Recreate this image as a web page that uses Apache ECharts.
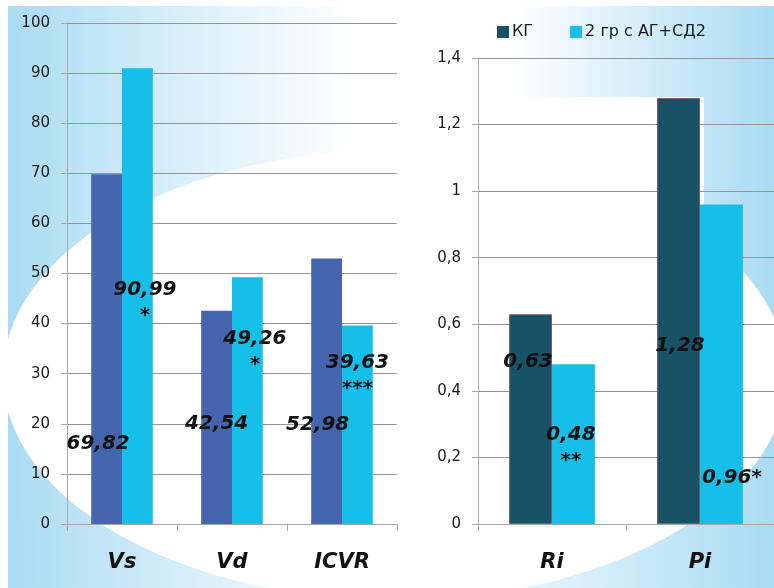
<!DOCTYPE html>
<html>
<head>
<meta charset="utf-8">
<script src="https://cdn.jsdelivr.net/npm/echarts@6/dist/echarts.min.js"></script>
<style>
  html, body { margin: 0; padding: 0; background: #ffffff; }
  #chart { width: 774px; height: 588px; }
</style>
</head>
<body>
<div id="chart"></div>
<script>
// Doppler indices: control group (КГ) vs group 2 (АГ+СД2)
const categoriesLeft = ['Vs', 'Vd', 'ICVR'];
const kgLeft = [69.82, 42.54, 52.98];
const groupLeft = [90.99, 49.26, 39.63];
const sigLeft = ['*', '*', '***'];

const categoriesRight = ['Ri', 'Pi'];
const kgRight = [0.63, 1.28];
const groupRight = [0.48, 0.96];
const sigRight = ['**', '*'];

const leftAxis = { min: 0, max: 100, step: 10 };
const rightAxis = { min: 0, max: 1.4, step: 0.2 };

const seriesNames = ['КГ', '2 гр с АГ+СД2'];

const COLORS = {
  kgLeft: '#4565af',
  group: '#16bfe8',
  kgRight: '#185267',
  grid: '#959595',
  axis: '#a8a8a8',
  text: '#1a1a1a',
  sky: '#a9dbf3'
};

const FONT = 'DejaVu Sans';
const comma = v => String(v).replace('.', ',');

// Hand-placed label anchors: [dx from bar centre, dy from the baseline]
const labelPlace = {
  kgLeft:    [[-8.5, -90], [0, -110], [-9, -109]],
  groupLeft: [[7.5, -244], [7.5, -195], [0, -171]],
  kgRight:   [[-2.5, -172], [1.5, -188]],
  groupRight:[[-2.5, -99], [10.5, -56]]
};
const sigInline = { groupLeft: [false, false, false], groupRight: [false, true] };

const rich = {
  n: { fontFamily: FONT, fontSize: 20, fontWeight: 'bold', fontStyle: 'italic', lineHeight: 20, color: '#111' },
  s: { fontFamily: FONT, fontSize: 20, fontWeight: 'bold', fontStyle: 'italic', lineHeight: 32, color: '#111' }
};

function labelled(values, key, sigs) {
  return values.map((v, i) => {
    const [dx, dy] = labelPlace[key][i];
    let text = '{n|' + comma(v) + '}';
    if (sigs) {
      text = sigInline[key][i] ? '{n|' + comma(v) + sigs[i] + '}' : text + '\n{s|' + sigs[i] + '}';
    }
    return {
      value: v,
      label: {
        show: true,
        position: 'insideBottom',
        distance: 0,
        align: 'center',
        verticalAlign: 'top',
        offset: [dx, dy],
        formatter: () => text,
        rich: rich,
        color: '#111',
        textBorderWidth: 0
      }
    };
  });
}

function valueAxis(gridIndex, cfg, decimalComma) {
  return {
    type: 'value',
    gridIndex: gridIndex,
    min: cfg.min,
    max: cfg.max,
    interval: cfg.step,
    axisLine: { show: true, lineStyle: { color: COLORS.axis, width: 1 } },
    axisTick: { show: true, inside: false, length: 6, lineStyle: { color: COLORS.axis } },
    splitLine: { show: true, lineStyle: { color: COLORS.grid, width: 1 } },
    axisLabel: {
      margin: 17,
      color: COLORS.text,
      fontFamily: FONT,
      fontSize: 15,
      formatter: v => decimalComma ? comma(Math.round(v * 10) / 10) : String(v)
    }
  };
}

function categoryAxis(gridIndex, cats) {
  return {
    type: 'category',
    gridIndex: gridIndex,
    data: cats,
    boundaryGap: true,
    axisLine: { show: true, lineStyle: { color: COLORS.axis, width: 1 } },
    axisTick: { show: true, alignWithLabel: false, length: 7, lineStyle: { color: COLORS.axis } },
    splitLine: { show: false },
    axisLabel: {
      margin: 28,
      color: '#111',
      fontFamily: FONT,
      fontSize: 21,
      fontWeight: 'bold',
      fontStyle: 'italic'
    }
  };
}

const barBase = { type: 'bar', barGap: '0%', animation: false };

const option = {
  animation: false,
  backgroundColor: 'transparent',
  graphic: {
    elements: [
      {
        type: 'rect', z: -20, silent: true,
        shape: { x: 8, y: 6, width: 766, height: 582 },
        style: {
          fill: {
            type: 'linear', x: 0, y: 0, x2: 1, y2: 0,
            colorStops: [
              { offset: 0, color: COLORS.sky },
              { offset: 0.2, color: '#d2edf9' },
              { offset: 0.45, color: '#ffffff' },
              { offset: 0.66, color: '#ffffff' },
              { offset: 1, color: COLORS.sky }
            ]
          }
        }
      },
      {
        type: 'rect', z: -19, silent: true,
        shape: { x: 8, y: 522, width: 766, height: 66 },
        style: {
          fill: {
            type: 'linear', x: 0, y: 0, x2: 1, y2: 0,
            colorStops: [
              { offset: 0, color: COLORS.sky },
              { offset: 0.45, color: '#ffffff' },
              { offset: 0.6, color: '#f4fbfe' },
              { offset: 1, color: COLORS.sky }
            ]
          }
        }
      },
      {
        type: 'ellipse', z: -18, silent: true,
        shape: { cx: 395, cy: 375, rx: 392, ry: 225 },
        style: { fill: '#ffffff' }
      },
      {
        type: 'rect', z: -17, silent: true,
        shape: { x: 478, y: 97, width: 226, height: 427 },
        style: { fill: '#ffffff' }
      }
    ]
  },
  legend: {
    left: 497,
    top: 24,
    padding: 0,
    icon: 'rect',
    itemWidth: 12,
    itemHeight: 12,
    itemGap: 37,
    textStyle: { fontFamily: FONT, fontSize: 16, color: COLORS.text, padding: [0, 0, 0, -2] },
    data: [
      { name: seriesNames[0], itemStyle: { color: COLORS.kgRight } },
      { name: seriesNames[1], itemStyle: { color: COLORS.group } }
    ]
  },
  grid: [
    { left: 67, top: 23, width: 330, bottom: 64, containLabel: false },
    { left: 478, top: 58, width: 296, bottom: 64, containLabel: false }
  ],
  xAxis: [categoryAxis(0, categoriesLeft), categoryAxis(1, categoriesRight)],
  yAxis: [valueAxis(0, leftAxis, false), valueAxis(1, rightAxis, true)],
  series: [
    Object.assign({}, barBase, {
      name: seriesNames[0], xAxisIndex: 0, yAxisIndex: 0,
      barCategoryGap: '44%',
      itemStyle: { color: COLORS.kgLeft },
      data: labelled(kgLeft, 'kgLeft', null)
    }),
    Object.assign({}, barBase, {
      name: seriesNames[1], xAxisIndex: 0, yAxisIndex: 0,
      barCategoryGap: '44%',
      itemStyle: { color: COLORS.group },
      data: labelled(groupLeft, 'groupLeft', sigLeft)
    }),
    Object.assign({}, barBase, {
      name: seriesNames[0], xAxisIndex: 1, yAxisIndex: 1,
      barCategoryGap: '42%',
      itemStyle: { color: COLORS.kgRight, borderColor: '#7e5a66', borderWidth: 1 },
      data: labelled(kgRight, 'kgRight', null)
    }),
    Object.assign({}, barBase, {
      name: seriesNames[1], xAxisIndex: 1, yAxisIndex: 1,
      barCategoryGap: '42%',
      itemStyle: { color: COLORS.group },
      data: labelled(groupRight, 'groupRight', sigRight)
    })
  ]
};

const chart = echarts.init(document.getElementById('chart'), null, { renderer: 'canvas' });
chart.setOption(option);
</script>
</body>
</html>
